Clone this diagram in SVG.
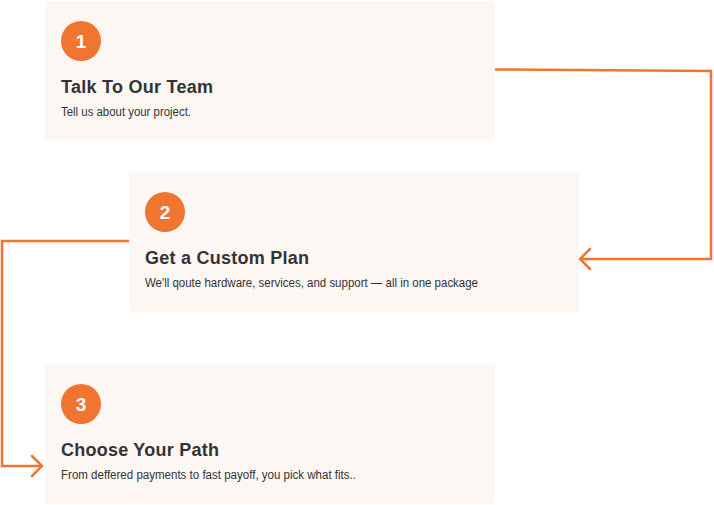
<svg xmlns="http://www.w3.org/2000/svg" width="714" height="505" viewBox="0 0 714 505">
<defs>
<style>
.box{fill:#FCF7F3}
.num{fill:#F07530}
.numt{fill:#fff;font-family:"Liberation Sans",Arial,sans-serif;font-weight:bold;font-size:19px;text-anchor:middle}
.title{fill:#333;font-family:"Liberation Sans",Arial,sans-serif;font-weight:bold;font-size:18px}
.sub{fill:#333;font-family:"Liberation Sans",Arial,sans-serif;font-size:12px}
.conn{fill:none;stroke:#F07530;stroke-width:2.5;stroke-linejoin:miter}
.head{fill:none;stroke:#F07530;stroke-width:2.5;stroke-linecap:round;stroke-linejoin:miter}
</style>
</defs>
<g id="connectors">
<polyline class="conn" points="495,69.5 711,71 711,259 580,259"/>
<polyline class="head" points="590,249 580,259 590,269"/>
<polyline class="conn" points="129,241 2,241 2,466 42,466"/>
<polyline class="head" points="32,456 42,466 32,476"/>
</g>
<g id="step1">
<rect class="box" x="45" y="1" width="450" height="140" rx="4"/>
<circle class="num" cx="81" cy="41" r="20"/>
<text class="numt" x="81" y="48">1</text>
<text class="title" x="61" y="93" textLength="152" lengthAdjust="spacing">Talk To Our Team</text>
<text class="sub" x="61" y="116" textLength="130" lengthAdjust="spacingAndGlyphs">Tell us about your project.</text>
</g>
<g id="step2">
<rect class="box" x="129" y="172" width="450" height="140" rx="4"/>
<circle class="num" cx="165" cy="212" r="20"/>
<text class="numt" x="165" y="219">2</text>
<text class="title" x="145" y="264" textLength="164" lengthAdjust="spacing">Get a Custom Plan</text>
<text class="sub" x="145" y="287" textLength="333" lengthAdjust="spacingAndGlyphs">We'll qoute hardware, services, and support — all in one package</text>
</g>
<g id="step3">
<rect class="box" x="45" y="364" width="450" height="140" rx="4"/>
<circle class="num" cx="81" cy="404" r="20"/>
<text class="numt" x="81" y="411">3</text>
<text class="title" x="61" y="456" textLength="158" lengthAdjust="spacing">Choose Your Path</text>
<text class="sub" x="61" y="479" textLength="295" lengthAdjust="spacingAndGlyphs">From deffered payments to fast payoff, you pick what fits..</text>
</g>
</svg>
